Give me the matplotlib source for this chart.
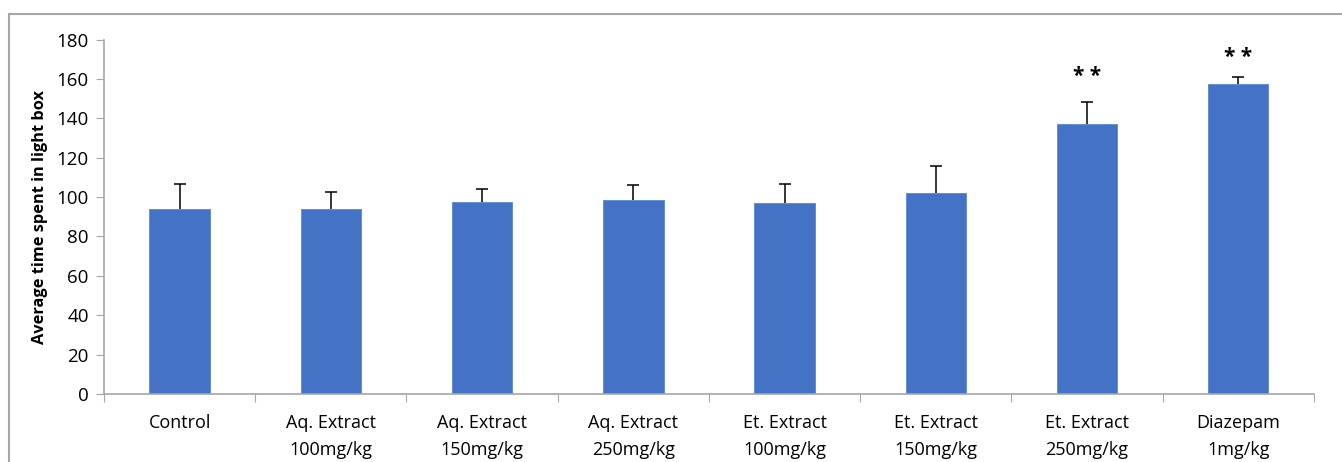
import numpy as np
import matplotlib.pyplot as plt
from matplotlib.patches import Rectangle

groups = ['Control', 'Aq. Extract\n100mg/kg', 'Aq. Extract\n150mg/kg', 'Aq. Extract\n250mg/kg',
          'Et. Extract\n100mg/kg', 'Et. Extract\n150mg/kg', 'Et. Extract\n250mg/kg', 'Diazepam\n1mg/kg']
means = [94.1, 94.1, 97.5, 98.3, 96.8, 102.0, 136.9, 157.4]
sems = [12.5, 8.6, 6.4, 7.9, 9.8, 14.0, 11.3, 3.5]
marks = ['', '', '', '', '', '', '* *', '* *']
mark_y = [0, 0, 0, 0, 0, 0, 161, 171]

plt.rcParams['font.family'] = ['Open Sans', 'DejaVu Sans']
fig = plt.figure(figsize=(13.42, 4.62), dpi=100)
# outer chart frame (cropped at right/bottom like the source)
fig.patches.append(Rectangle((9/1342, -0.1), 1.2, 1 - 14/462 + 0.1, transform=fig.transFigure,
                             fill=False, edgecolor='#a6a6a6', linewidth=1.5))
ax = fig.add_axes([0.0775, 0.147, 0.9015, 0.7675])

x = np.arange(len(groups))
ax.bar(x, means, width=0.4, color='#4472C4', edgecolor='#5b86d6', linewidth=0.6, zorder=2)
eb = ax.errorbar(x, means, yerr=[np.zeros(len(sems)), sems], fmt='none', ecolor='black',
                 elinewidth=1.1, capsize=4.5, capthick=1.1, zorder=3)
eb[1][0].set_visible(False)  # no cap at bar top
for xi, m, my in zip(x, marks, mark_y):
    if m:
        ax.text(xi, my, m, ha='center', va='center', fontsize=15, fontweight='bold')

ax.set_xlim(-0.5, len(groups) - 0.5)
ax.set_ylim(0, 180)
ax.set_yticks(np.arange(0, 181, 20))
ax.set_xticks(np.arange(-0.5, len(groups), 1))
ax.set_xticklabels([])
ax.set_xticks(x, minor=True)
ax.set_xticklabels(groups, minor=True, fontsize=13, linespacing=1.65)
ax.tick_params(axis='x', which='minor', length=0, pad=14)
ax.tick_params(axis='x', which='major', length=6, color='#a6a6a6', direction='out')
ax.tick_params(axis='y', length=6, color='#a6a6a6', labelsize=13.5, pad=5)
for s in ['top', 'right']:
    ax.spines[s].set_visible(False)
for s in ['left', 'bottom']:
    ax.spines[s].set_color('#a6a6a6')
    ax.spines[s].set_linewidth(1.2)
ax.set_ylabel('Average time spent in light box', fontsize=11.8, fontweight='bold', labelpad=6)

fig.savefig('out.png', dpi=100)
